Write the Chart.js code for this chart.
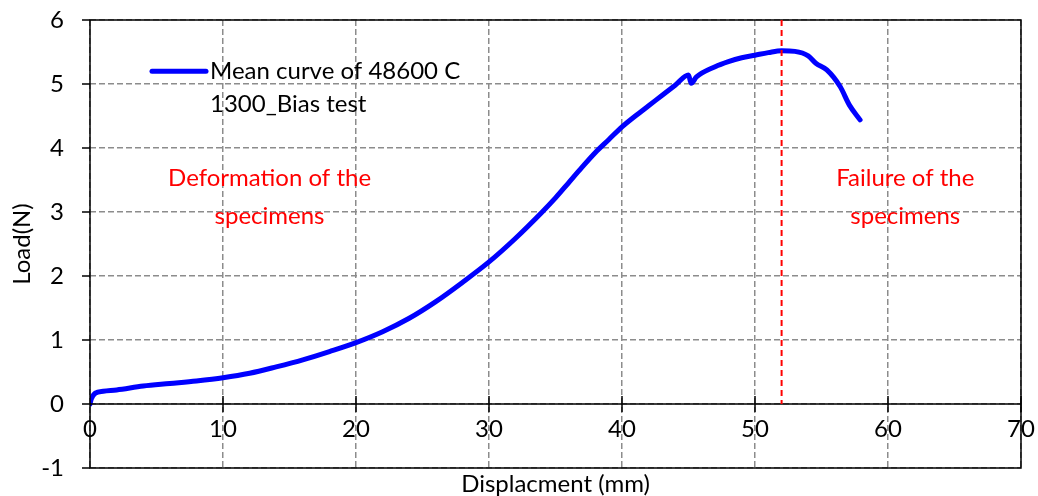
<!DOCTYPE html>
<html>
<head>
<meta charset="utf-8">
<script src="https://cdn.jsdelivr.net/npm/chart.js@4.4.1/dist/chart.umd.min.js"></script>
<style>
  html, body { margin: 0; padding: 0; background: #fff; }
  #wrap { width: 1038px; height: 496px; position: relative; }
</style>
</head>
<body>
<div id="wrap"><canvas id="c" width="1038" height="496"></canvas></div>
<script>
// ---- data ----
const displacement = [0, 0.1, 0.4, 1, 2, 4, 6, 8, 10, 12, 14, 16, 18, 20, 22, 24, 26, 28, 30, 32, 34, 35, 36, 37, 38, 39, 40, 41, 42, 43, 44, 45, 45.2, 45.6, 47, 48, 49, 50, 51, 52, 53, 54, 54.6, 55.4, 56.4, 57.1, 57.9];
const load = [0, 0.08, 0.17, 0.2, 0.22, 0.28, 0.32, 0.36, 0.41, 0.48, 0.58, 0.69, 0.82, 0.96, 1.13, 1.34, 1.6, 1.9, 2.22, 2.59, 3.0, 3.22, 3.46, 3.7, 3.93, 4.13, 4.33, 4.5, 4.66, 4.82, 4.98, 5.14, 5.01, 5.11, 5.27, 5.35, 5.41, 5.45, 5.49, 5.52, 5.51, 5.44, 5.32, 5.22, 4.96, 4.67, 4.44];
const seriesLabel = ["Mean curve of 48600 C", "1300_Bias test"];
const xTitle = "Displacment (mm)";
const yTitle = "Load(N)";
const failureX = 52;
const leftNote = ["Deformation of the", "specimens"];
const rightNote = ["Failure of the", "specimens"];
const xRange = [0, 70], xStep = 10;
const yRange = [-1, 6], yStep = 1;

const FONT = "Lato, 'Open Sans', sans-serif";
const FS = 24;
const points = displacement.map((x, i) => ({ x: x, y: load[i] }));

const decor = {
  id: 'decor',
  afterDraw(chart) {
    const { ctx, chartArea: a, scales: { x, y } } = chart;
    ctx.save();
    // frame
    ctx.strokeStyle = '#000';
    ctx.lineWidth = 1.5;
    ctx.strokeRect(a.left, a.top, a.right - a.left, a.bottom - a.top);
    // x axis line at y=0 with crossing ticks
    const y0 = y.getPixelForValue(0);
    ctx.beginPath();
    ctx.moveTo(a.left, y0); ctx.lineTo(a.right, y0);
    for (let v = xRange[0] + xStep; v <= xRange[1]; v += xStep) {
      const px = x.getPixelForValue(v);
      ctx.moveTo(px, y0 - 8); ctx.lineTo(px, y0 + 8);
    }
    // y ticks outward
    for (let v = yRange[0]; v <= yRange[1]; v += yStep) {
      const py = y.getPixelForValue(v);
      ctx.moveTo(a.left - 8, py); ctx.lineTo(a.left, py);
    }
    ctx.stroke();
    // failure line
    ctx.strokeStyle = '#FF0000';
    ctx.lineWidth = 2;
    ctx.setLineDash([6, 4]);
    const fx = x.getPixelForValue(failureX);
    ctx.beginPath();
    ctx.moveTo(fx, y.getPixelForValue(yRange[1]));
    ctx.lineTo(fx, y0);
    ctx.stroke();
    ctx.setLineDash([]);
    // notes
    ctx.font = FS + 'px ' + FONT;
    ctx.fillStyle = '#FF0000';
    ctx.textAlign = 'center';
    ctx.textBaseline = 'middle';
    const lx = x.getPixelForValue(13.5), rx = x.getPixelForValue(61.3);
    const l1 = y.getPixelForValue(3.52), l2 = y.getPixelForValue(2.94);
    ctx.fillText(leftNote[0], lx, l1);
    ctx.fillText(leftNote[1], lx, l2);
    ctx.fillText(rightNote[0], rx, l1);
    ctx.fillText(rightNote[1], rx, l2);
    // legend
    const ds = chart.data.datasets[0];
    const ly = y.getPixelForValue(5.2);
    ctx.strokeStyle = ds.borderColor;
    ctx.lineWidth = 5;
    ctx.lineCap = 'round';
    ctx.beginPath();
    ctx.moveTo(a.left + 62, ly); ctx.lineTo(a.left + 116, ly);
    ctx.stroke();
    ctx.fillStyle = '#000';
    ctx.textAlign = 'left';
    ctx.fillText(seriesLabel[0], a.left + 120, ly);
    ctx.fillText(seriesLabel[1], a.left + 120, ly + 33);
    // x title
    ctx.textAlign = 'center';
    ctx.fillText(xTitle, (a.left + a.right) / 2, 484);
    ctx.restore();
  }
};

new Chart(document.getElementById('c'), {
  type: 'scatter',
  plugins: [decor],
  data: {
    datasets: [{
      label: seriesLabel.join(' '),
      data: points,
      showLine: true,
      borderColor: '#0000FF',
      backgroundColor: '#0000FF',
      borderWidth: 5,
      pointRadius: 0,
      cubicInterpolationMode: 'monotone',
      borderCapStyle: 'round',
      borderJoinStyle: 'round'
    }]
  },
  options: {
    responsive: false,
    animation: false,
    devicePixelRatio: 1,
    layout: { padding: { left: 0, right: 17, top: 20, bottom: 28 } },
    plugins: { legend: { display: false }, tooltip: { enabled: false } },
    scales: {
      x: {
        type: 'linear',
        position: { y: 0 },
        min: xRange[0], max: xRange[1],
        ticks: { stepSize: xStep, color: '#000', font: { family: FONT, size: FS }, padding: 11 },
        grid: { color: '#8c8c8c', lineWidth: 1.5, drawTicks: false },
        border: { display: false, dash: [6, 3] },
        afterFit(s) { s.paddingLeft = 0; s.paddingRight = 0; s.paddingTop = 0; s.paddingBottom = 0; }
      },
      y: {
        type: 'linear',
        min: yRange[0], max: yRange[1],
        ticks: { stepSize: yStep, color: '#000', font: { family: FONT, size: FS }, padding: 18 },
        grid: { color: '#8c8c8c', lineWidth: 1.5, tickLength: 8, tickColor: 'rgba(0,0,0,0)' },
        border: { display: false, dash: [6, 3] },
        title: { display: true, text: yTitle, color: '#000', font: { family: FONT, size: FS }, padding: { top: 8, bottom: 0 } },
        afterFit(s) { s.width = 90; s.paddingTop = 0; s.paddingBottom = 0; s.paddingLeft = 0; s.paddingRight = 0; }
      }
    }
  }
});
</script>
</body>
</html>
